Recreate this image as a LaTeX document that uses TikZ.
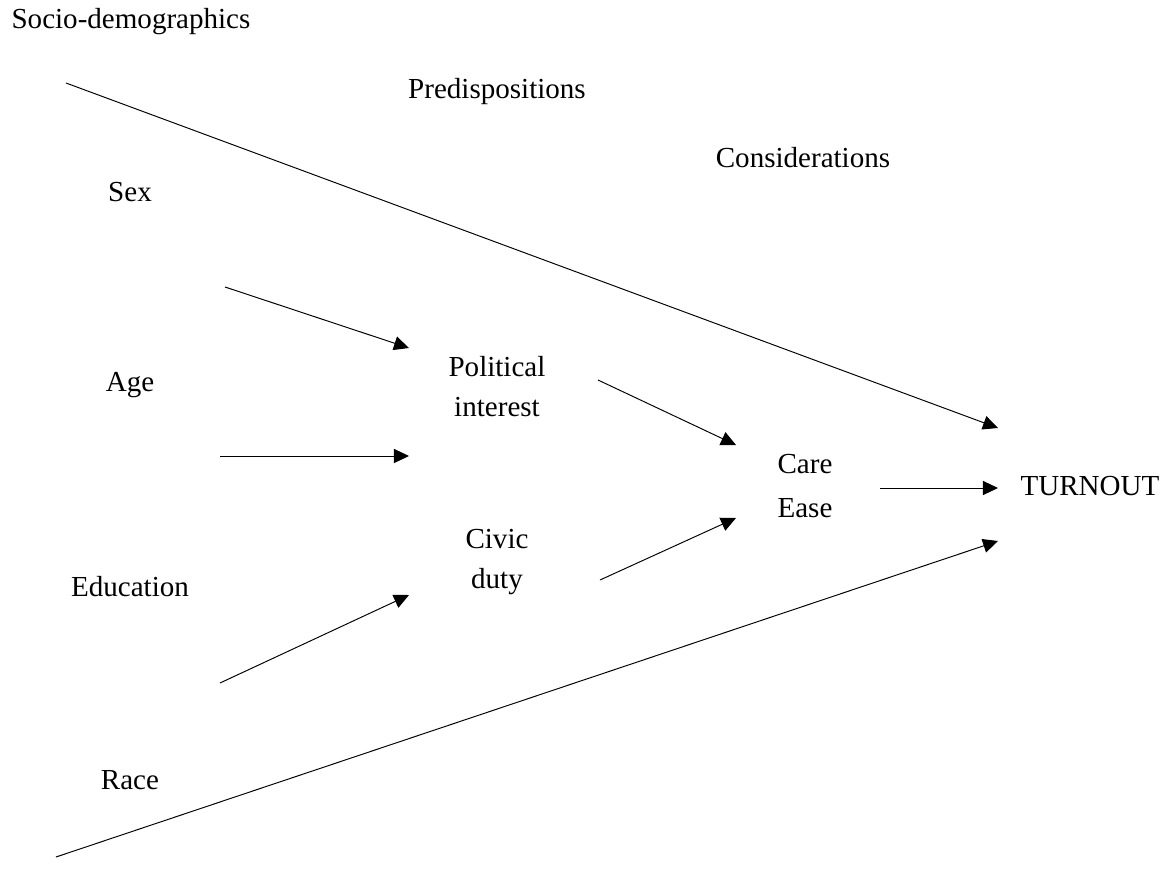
\documentclass[tikz,border=0pt]{standalone}
\usepackage{fontspec}
\setmainfont{Liberation Serif}
\usetikzlibrary{arrows.meta,positioning}
\tikzset{
    -{Triangle[length=6.2pt,width=5.8pt]},line width=0.4pt,
    x=0.413pt,y=-0.413pt,
    lbl/.style={inner sep=0pt,align=center,font=\fontsize{12}{16.5}\selectfont}
}
\begin{document}
\begin{tikzpicture}
    \useasboundingbox (0,0) rectangle (1170,888);

    % column headings
    \node[lbl] (socio) at (131,22) {Socio-demographics};
    \node[lbl] (pred) at (497,92) {Predispositions};
    \node[lbl] (cons) at (803,158) {Considerations};

    % socio-demographic variables
    \node[lbl] (sex) at (130,192) {Sex};
    \node[lbl] (age) at (130,385) {Age};
    \node[lbl] (edu) at (130,587) {Education};
    \node[lbl] (race) at (130,780) {Race};

    % predispositions and considerations
    \node[lbl] (interest) at (497,387) {Political\\interest};
    \node[lbl] (duty) at (497,562) {Civic\\duty};
    \node[lbl] (care) at (805,486) {Care\\[1.5pt]Ease};
    \node[lbl] (turnout) at (1090,486) {TURNOUT};

    % arrow end points
    \coordinate (t1) at (66,83);   \coordinate (t2) at (998,428);
    \coordinate (b1) at (56,857);  \coordinate (b2) at (998,541);
    \coordinate (s1) at (225,287); \coordinate (s2) at (409,348);
    \coordinate (m1) at (220,456); \coordinate (m2) at (409,456);
    \coordinate (e1) at (220,683); \coordinate (e2) at (409,595);
    \coordinate (p1) at (598,380); \coordinate (p2) at (736,445);
    \coordinate (d1) at (600,580); \coordinate (d2) at (736,518);
    \coordinate (c1) at (880,488); \coordinate (c2) at (998,488);

    \draw (t1) -- (t2);
    \draw (b1) -- (b2);
    \draw (s1) -- (s2);
    \draw (m1) -- (m2);
    \draw (e1) -- (e2);
    \draw (p1) -- (p2);
    \draw (d1) -- (d2);
    \draw (c1) -- (c2);
\end{tikzpicture}
\end{document}
